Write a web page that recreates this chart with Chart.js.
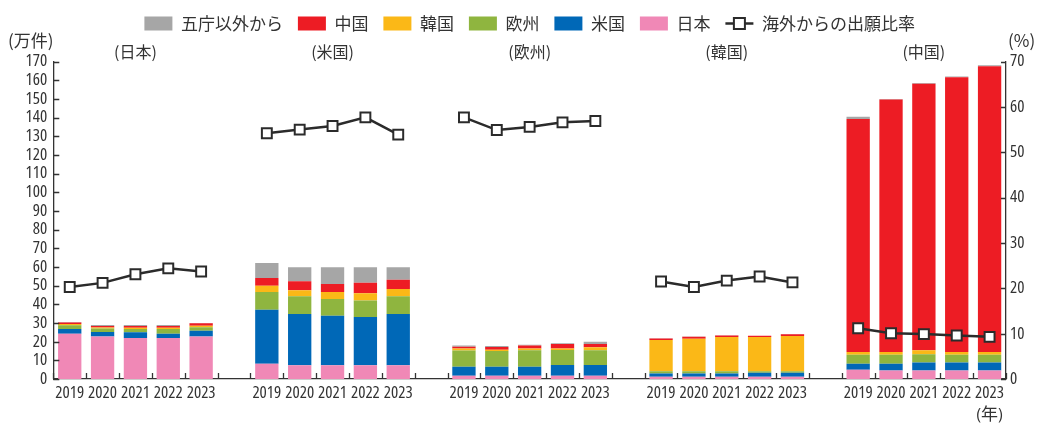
<!DOCTYPE html>
<html lang="ja">
<head>
<meta charset="utf-8">
<title>五庁への特許出願件数</title>
<script src="https://cdn.jsdelivr.net/npm/chart.js@4/dist/chart.umd.min.js"></script>
<style>
  html, body { margin: 0; padding: 0; background: #fff; }
  #chart { display: block; }
</style>
</head>
<body>
<canvas id="chart" width="1039" height="424"></canvas>
<script>
// ===== データ =====
const years = ['2019', '2020', '2021', '2022', '2023'];
const offices = ['(日本)', '(米国)', '(欧州)', '(韓国)', '(中国)'];

// 出願人の国籍別 出願件数（万件）: 日本庁, 米国庁, 欧州庁, 韓国庁, 中国庁 の順に5年ずつ
const fromJapan = [24.3, 22.7, 22.0, 22.0, 22.7,  8.2, 7.3, 7.3, 7.3, 7.3,  1.8, 1.8, 1.8, 1.8, 1.8,  1.2, 1.2, 1.2, 1.2, 1.2,  5.0, 4.5, 4.5, 4.5, 4.5];
const fromUS    = [2.5, 2.5, 3.0, 2.3, 3.2,  28.9, 27.5, 26.6, 25.9, 27.5,  4.8, 4.8, 4.8, 5.7, 5.7,  1.7, 1.7, 1.7, 2.2, 2.2,  3.2, 3.7, 4.4, 4.4, 4.4];
const fromEU    = [2.0, 1.8, 1.8, 2.5, 1.8,  9.5, 9.5, 9.0, 8.8, 9.5,  8.6, 8.4, 8.8, 8.0, 7.9,  1.2, 1.2, 1.2, 0.7, 0.7,  4.8, 4.8, 4.3, 4.1, 4.1];
const fromKorea = [0.6, 0.6, 0.6, 0.6, 0.8,  3.4, 3.2, 3.7, 3.9, 3.9,  1.1, 0.7, 0.9, 0.8, 1.6,  16.8, 17.5, 18.4, 18.4, 18.9,  1.5, 1.5, 2.2, 1.5, 1.5];
const fromChina = [0.8, 0.8, 1.0, 1.0, 1.3,  4.1, 4.8, 4.3, 5.7, 5.0,  1.0, 1.4, 1.6, 2.5, 1.8,  0.8, 1.0, 0.8, 0.6, 1.0,  124.8, 135.2, 142.8, 147.1, 153.0];
const fromOther = [0.3, 0.5, 0.5, 0.5, 0.2,  8.0, 7.5, 8.9, 8.2, 6.6,  0.6, 0.6, 0.5, 0.3, 1.2,  0.1, 0.1, 0.1, 0.1, 0.1,  1.1, 0.3, 0.4, 0.4, 0.5];
// 海外からの出願比率（%）
const foreignRatio = [20.3, 21.2, 23.1, 24.4, 23.7,  54.2, 55.0, 55.8, 57.7, 53.9,  57.7, 54.9, 55.6, 56.6, 56.9,  21.5, 20.3, 21.7, 22.6, 21.3,  11.2, 10.1, 9.9, 9.6, 9.3];

const leftTicks = { min: 0, max: 170, step: 10 };
const rightTicks = { min: 0, max: 70, step: 10 };

// ===== 補助 =====
const jpFont = "'Noto Sans CJK JP', 'Noto Sans', sans-serif";
const ink = '#333333';

// 数字用の細いフォントを探す（無ければ小さめの通常フォント）
function narrowFont() {
  const c = document.createElement('canvas').getContext('2d');
  const w = f => { c.font = f; return c.measureText('2019').width; };
  const mono = w('16px monospace');
  if (Math.abs(w("16px 'Liberation Sans Narrow', monospace") - mono) > 0.5) {
    return { family: "'Liberation Sans Narrow', 'Noto Sans CJK JP', sans-serif", size: 16 };
  }
  const tries = ["'Noto Sans'", "'Open Sans'", "'DejaVu Sans'", 'Roboto'];
  for (const fam of tries) {
    const normal = w('16px ' + fam);
    if (w('condensed 16px ' + fam) < normal - 1) {
      return { family: fam + ", 'Noto Sans CJK JP', sans-serif", weight: 'condensed', size: 17 };
    }
  }
  return { family: "'Liberation Sans', 'Noto Sans CJK JP', sans-serif", size: 13 };
}
const num = narrowFont();

// 庁ごとの5本の間に空きカテゴリを1つ入れる
function spread(arr) {
  const out = [];
  offices.forEach((o, g) => {
    if (g > 0) out.push(null);
    out.push(...arr.slice(g * 5, g * 5 + 5));
  });
  return out;
}

const labels = [];
const topLabels = [];
offices.forEach((o, g) => {
  if (g > 0) { labels.push(''); topLabels.push(''); }
  years.forEach((yr, i) => {
    labels.push(yr);
    topLabels.push(i === 2 ? o : '');
  });
});
labels[labels.length - 1] = [years[4], '(年)'];

// ===== 目盛り・注記 =====
const decorations = {
  id: 'decorations',
  afterDraw(chart) {
    const { ctx, scales: { x, y, y1 } } = chart;
    ctx.save();
    ctx.strokeStyle = ink;
    ctx.lineWidth = 1.3;
    ctx.beginPath();
    y.ticks.forEach((t, i) => {
      const py = Math.round(y.getPixelForTick(i)) + 0.5;
      ctx.moveTo(x.left, py); ctx.lineTo(x.left + 6, py);
    });
    y1.ticks.forEach((t, i) => {
      const py = Math.round(y1.getPixelForTick(i)) + 0.5;
      ctx.moveTo(x.right, py); ctx.lineTo(x.right - 5, py);
    });
    for (let i = 0; i <= labels.length; i++) {
      const px = Math.round(x.getPixelForValue(i - 0.5)) + 0.5;
      ctx.moveTo(px, y.bottom); ctx.lineTo(px, y.bottom - 6);
    }
    ctx.stroke();

    // 単位
    ctx.fillStyle = ink;
    ctx.font = '17px ' + jpFont;
    ctx.textBaseline = 'middle';
    ctx.textAlign = 'left';
    ctx.fillText('(万件)', 8, 41);
    ctx.fillText('(%)', 1008, 41);

    // 凡例の折れ線マーク
    const lg = chart.legend;
    lg.legendItems.forEach((it, i) => {
      if (it.datasetIndex !== 0) return;
      const hb = lg.legendHitBoxes[i];
      const cy = hb.top + hb.height / 2;
      ctx.strokeStyle = '#2b2b2b';
      ctx.lineWidth = 2.5;
      ctx.beginPath();
      ctx.moveTo(hb.left, cy); ctx.lineTo(hb.left + 28, cy);
      ctx.stroke();
      ctx.fillStyle = '#fff';
      ctx.lineWidth = 2;
      ctx.fillRect(hb.left + 8.5, cy - 5.5, 11, 11);
      ctx.strokeRect(hb.left + 8.5, cy - 5.5, 11, 11);
    });
    ctx.restore();
  }
};

// ===== グラフ =====
const barCommon = { type: 'bar', yAxisID: 'y', xAxisID: 'x', borderWidth: 0, barPercentage: 0.71, categoryPercentage: 1.0 };
const numTickFont = { size: num.size, family: num.family, weight: num.weight };

new Chart(document.getElementById('chart'), {
  data: {
    labels: labels,
    datasets: [
      {
        type: 'line', label: '海外からの出願比率', data: spread(foreignRatio), yAxisID: 'y1', xAxisID: 'x',
        borderColor: '#2b2b2b', borderWidth: 2.5, spanGaps: false,
        pointStyle: 'rect', pointRadius: 7, pointHoverRadius: 7, pointBorderWidth: 2,
        pointBackgroundColor: '#ffffff', pointBorderColor: '#2b2b2b'
      },
      { ...barCommon, label: '日本', data: spread(fromJapan), backgroundColor: '#f088b6' },
      { ...barCommon, label: '米国', data: spread(fromUS), backgroundColor: '#0068b7' },
      { ...barCommon, label: '欧州', data: spread(fromEU), backgroundColor: '#8fb53f' },
      { ...barCommon, label: '韓国', data: spread(fromKorea), backgroundColor: '#fbb817' },
      { ...barCommon, label: '中国', data: spread(fromChina), backgroundColor: '#ed1c24' },
      { ...barCommon, label: '五庁以外から', data: spread(fromOther), backgroundColor: '#a6a6a6' }
    ]
  },
  options: {
    responsive: false,
    animation: false,
    layout: { padding: 0 },
    plugins: {
      tooltip: { enabled: false },
      legend: {
        position: 'top',
        fullSize: false,
        reverse: true,
        labels: {
          font: { size: 17, family: jpFont },
          color: ink,
          boxWidth: 28,
          boxHeight: 14,
          padding: 15,
          generateLabels: chart => {
            const items = Chart.defaults.plugins.legend.labels.generateLabels(chart);
            items.forEach(it => {
              it.lineWidth = 0;
              if (it.datasetIndex === 0) {
                it.fillStyle = 'rgba(0,0,0,0)';
                it.strokeStyle = 'rgba(0,0,0,0)';
              }
            });
            return items;
          }
        }
      }
    },
    scales: {
      x: {
        type: 'category',
        stacked: true,
        offset: true,
        grid: { display: false, drawTicks: false },
        border: { display: true, color: ink, width: 1.3 },
        ticks: { autoSkip: false, maxRotation: 0, minRotation: 0, padding: 3, color: ink,
                 font: { ...numTickFont, lineHeight: 1.3 } },
        afterFit: s => { s.height = 45; }
      },
      x2: {
        type: 'category',
        position: 'top',
        labels: topLabels,
        offset: true,
        grid: { display: false, drawTicks: false },
        border: { display: false },
        ticks: { autoSkip: false, maxRotation: 0, minRotation: 0, padding: 0, color: ink,
                 font: { size: 16, family: jpFont } },
        afterFit: s => { s.height = 19.6; }
      },
      y: {
        position: 'left',
        stacked: true,
        min: leftTicks.min, max: leftTicks.max,
        grid: { display: false, drawTicks: false },
        border: { display: true, color: ink, width: 1.3 },
        ticks: { stepSize: leftTicks.step, autoSkip: false, padding: 6, color: ink,
                 font: { ...numTickFont, lineHeight: 1 } },
        afterFit: s => { s.width = 53.3; }
      },
      y1: {
        position: 'right',
        stacked: false,
        min: rightTicks.min, max: rightTicks.max,
        grid: { display: false, drawTicks: false },
        border: { display: true, color: ink, width: 1.3 },
        ticks: { stepSize: rightTicks.step, autoSkip: false, padding: 4, color: ink,
                 font: { ...numTickFont, lineHeight: 1 } },
        afterFit: s => { s.width = 33; }
      }
    }
  },
  plugins: [decorations]
});
</script>
</body>
</html>
